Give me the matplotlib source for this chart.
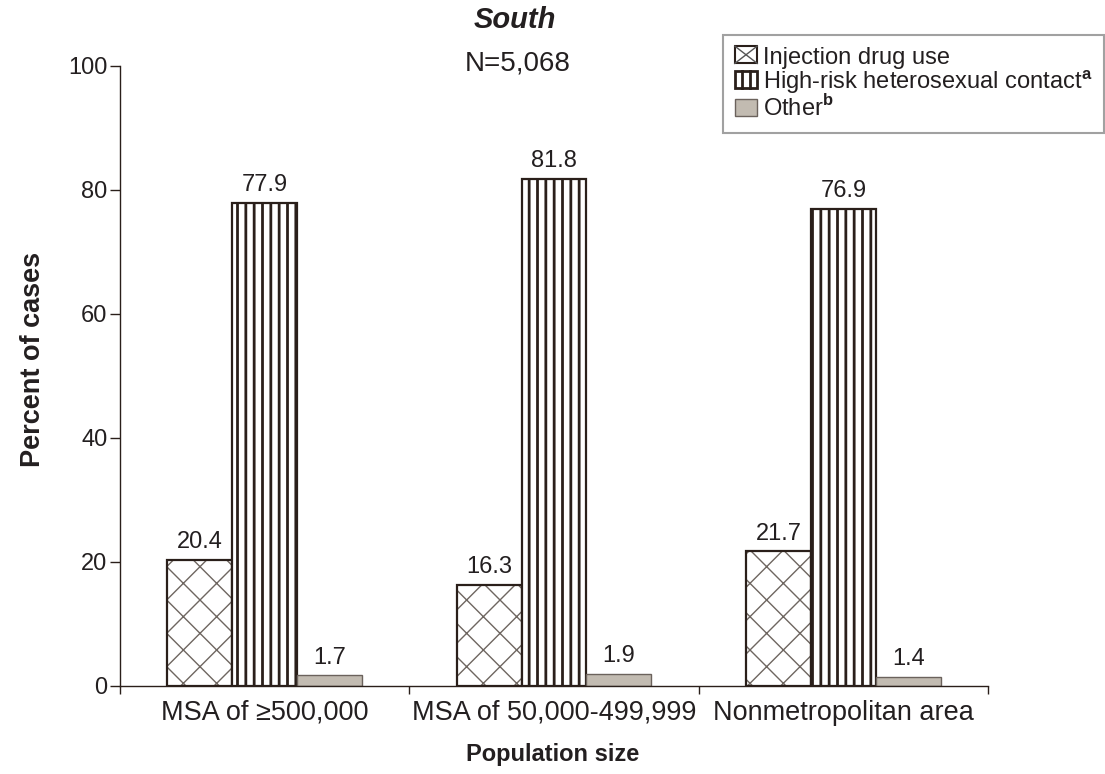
import matplotlib
matplotlib.use("Agg")
import matplotlib.pyplot as plt
import numpy as np
from matplotlib.patches import Patch, Rectangle
from matplotlib.lines import Line2D
from matplotlib.legend_handler import HandlerBase

plt.rcParams['font.family'] = ['Liberation Sans', 'DejaVu Sans']
plt.rcParams['mathtext.fontset'] = 'custom'
plt.rcParams['mathtext.rm'] = 'Liberation Sans'
plt.rcParams['mathtext.bf'] = 'Liberation Sans:bold'
plt.rcParams['hatch.linewidth'] = 1.0

categories = ["MSA of \u2265500,000", "MSA of 50,000-499,999", "Nonmetropolitan area"]
series_names = ["Injection drug use", "High-risk heterosexual contact$^{\\mathbf{a}}$", "Other$^{\\mathbf{b}}$"]
idu = [20.4, 16.3, 21.7]
hrh = [77.9, 81.8, 76.9]
other = [1.7, 1.9, 1.4]
yticks = [0, 20, 40, 60, 80, 100]

TXT = '#231f20'
EDGE = '#2a1f1a'
HATCH_X = '#6e6660'
OTHER_FILL = '#c2bbb1'

fig = plt.figure(figsize=(11.05, 7.74), dpi=100)
ax = fig.add_axes([120/1105, 1-686/774, (988-120)/1105, 620/774])

x = np.arange(len(categories))
w = 0.224

# Injection drug use: cross hatch (lighter) + dark outline
ax.bar(x - w, idu, w, color='white', edgecolor=HATCH_X, hatch='x', linewidth=0)
ax.bar(x - w, idu, w, color='none', edgecolor=EDGE, linewidth=1.6)
# High-risk heterosexual: vertical lines
with plt.rc_context({'hatch.linewidth': 2.0}):
    ax.bar(x, hrh, w, color='white', edgecolor=EDGE, hatch='||', linewidth=1.6)
# Other: solid gray
ax.bar(x + w, other, w, color=OTHER_FILL, edgecolor='#6b625c', linewidth=1.0)

for xs, vals in [(x - w, idu), (x, hrh), (x + w, other)]:
    for xi, v in zip(xs, vals):
        ax.annotate(f"{v:.1f}", (xi, v), xytext=(0, 5), textcoords='offset points',
                    ha='center', va='bottom', fontsize=17, color=TXT)

ax.set_xlim(-0.5, 2.5)
ax.set_ylim(0, 100)
ax.set_yticks(yticks)
ax.set_yticklabels([str(t) for t in yticks], fontsize=17, color=TXT)
ax.set_xticks(x)
ax.set_xticklabels(categories, fontsize=19.5, color=TXT)
ax.tick_params(axis='x', which='major', length=0, pad=10)
ax.set_xticks([-0.5, 0.5, 1.5, 2.5], minor=True)
ax.tick_params(axis='x', which='minor', length=6, width=1, color=EDGE, direction='out')
ax.tick_params(axis='y', length=7, width=1, color=EDGE, pad=2)
for s in ['top', 'right']:
    ax.spines[s].set_visible(False)
for s in ['left', 'bottom']:
    ax.spines[s].set_color(EDGE)
    ax.spines[s].set_linewidth(1.0)

ax.set_ylabel("Percent of cases", fontsize=19.5, fontweight='bold', color=TXT)
ax.yaxis.set_label_coords((33-120)/868, (686-359)/620)
ax.set_xlabel("Population size", fontsize=17, fontweight='bold', color=TXT)
ax.xaxis.set_label_coords((553-120)/868, -(755-686)/620)
ax.xaxis.label.set_va('center')
ax.yaxis.label.set_va('center')

fig.text(515/1105, 1-20/774, "South", ha='center', va='center', fontsize=21,
         fontweight='bold', fontstyle='italic', color=TXT)
fig.text(518/1105, 1-63/774, "N=5,068", ha='center', va='center', fontsize=20, color=TXT)


class CrossHandler(HandlerBase):
    def create_artists(self, legend, orig_handle, xd, yd, width, height, fontsize, trans):
        r = Rectangle((xd, yd), width, height, facecolor='white', edgecolor=EDGE,
                      linewidth=1.5, transform=trans)
        l1 = Line2D([xd, xd + width], [yd, yd + height], color='#555', lw=1.0, transform=trans)
        l2 = Line2D([xd, xd + width], [yd + height, yd], color='#555', lw=1.0, transform=trans)
        return [r, l1, l2]


class VLineHandler(HandlerBase):
    def create_artists(self, legend, orig_handle, xd, yd, width, height, fontsize, trans):
        r = Rectangle((xd, yd), width, height, facecolor='white', edgecolor=EDGE,
                      linewidth=2.0, transform=trans)
        arts = [r]
        for k in (1, 2):
            xx = xd + width * k / 3
            arts.append(Line2D([xx, xx], [yd, yd + height], color=EDGE, lw=2.0, transform=trans))
        return arts


h_idu = Patch(facecolor='white', edgecolor=EDGE)
h_hrh = Patch(facecolor='white', edgecolor=EDGE)
h_oth = Patch(facecolor=OTHER_FILL, edgecolor='#6b625c', linewidth=1.0)
leg = fig.legend([h_idu, h_hrh, h_oth], series_names, loc='upper left',
                 bbox_to_anchor=(723/1105, 1-35/774), fontsize=17,
                 frameon=True, fancybox=False, edgecolor='#8a8a8a',
                 handlelength=0.95, handleheight=0.75, handletextpad=0.25,
                 labelspacing=-0.05, borderpad=0.5, borderaxespad=0,
                 handler_map={h_idu: CrossHandler(), h_hrh: VLineHandler()})
leg.get_frame().set_linewidth(1.5)
for t in leg.get_texts():
    t.set_color(TXT)

fig.savefig("out.png", dpi=100)
